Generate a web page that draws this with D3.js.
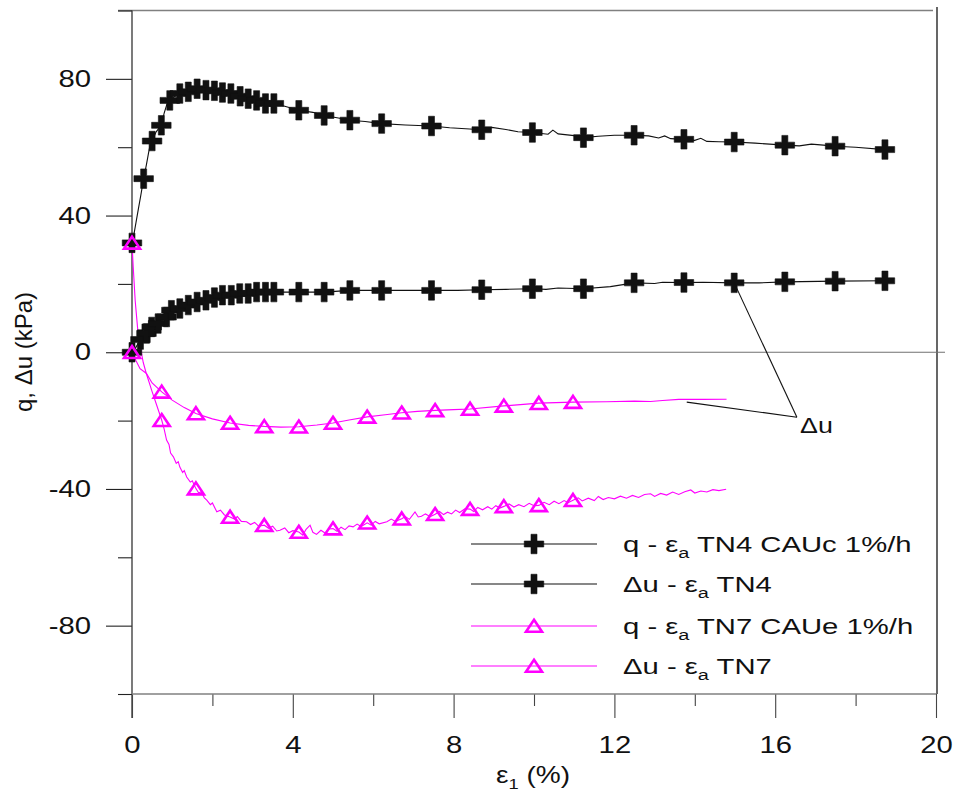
<!DOCTYPE html>
<html>
<head>
<meta charset="utf-8">
<script src="https://cdn.jsdelivr.net/npm/d3@7/dist/d3.min.js"></script>
<style>
  body { margin: 0; background: #fff; }
  svg { display: block; font-family: Arial, "Liberation Sans", sans-serif; }
</style>
</head>
<body>
<script>
// ---------- DATA ----------
const xMajorTicks = [0, 4, 8, 12, 16, 20];
const xMinorTicks = [2, 6, 10, 14, 18];
const yMajorTicks = [-80, -40, 0, 40, 80];
const yMinorTicks = [-100, -60, -20, 20, 60, 100];

// TN4 CAUc : q - eps_a (line)
const tn4qLine = [[0,32],[0.04,34],[0.1,38],[0.16,42],[0.22,46],[0.29,50.8],[0.36,55],[0.43,59.5],[0.5,61.8],[0.6,64.5],[0.73,66.4],[0.8,70],[0.88,73],[0.94,73.7],[1.05,74.8],[1.19,75.7],[1.3,76],[1.4,76.2],[1.5,76.8],[1.62,77.1],[1.73,76.9],[1.84,76.7],[2.05,76.5],[2.25,76.0],[2.46,75.7],[2.69,74.9],[2.89,74.2],[3.1,73.7],[3.32,72.8],[3.53,72.8],[3.8,72],[4.15,70.8],[4.5,70.2],[4.78,69.3],[5.1,68.6],[5.42,67.9],[5.8,67.5],[6.21,66.9],[6.8,66.5],[7.45,66.2],[7.9,65.7],[8.3,65.4],[8.7,65.1],[8.95,65.8],[9.3,65.2],[9.6,64.5],[9.96,64.3],[10.35,63.8],[10.47,65.0],[10.6,63.9],[11.0,63.4],[11.23,62.8],[11.6,63.2],[12.0,63.5],[12.49,63.5],[12.85,63.3],[13.1,62.7],[13.25,63.3],[13.4,62.5],[13.73,62.3],[14.0,62],[14.15,62.6],[14.3,61.7],[14.6,61.6],[14.98,61.5],[15.5,61.2],[16.24,60.6],[16.6,60.4],[16.9,60.9],[17.2,60.6],[17.49,60.3],[18.0,60],[18.73,59.3],[18.92,59.2]];
const tn4qMarks = [[0,32],[0.29,50.8],[0.5,61.8],[0.73,66.4],[0.94,73.7],[1.19,75.7],[1.40,76.2],[1.62,77.1],[1.84,76.7],[2.05,76.5],[2.25,76.0],[2.46,75.7],[2.69,74.9],[2.89,74.2],[3.10,73.7],[3.32,72.8],[3.53,72.8],[4.15,70.8],[4.78,69.3],[5.42,67.9],[6.21,66.9],[7.45,66.2],[8.7,65.1],[9.96,64.3],[11.23,62.8],[12.49,63.5],[13.73,62.3],[14.98,61.5],[16.24,60.6],[17.49,60.3],[18.73,59.3]];

// TN4 : du - eps_a
const tn4uLine = [[0,0],[0.05,0.5],[0.1,1.5],[0.21,3.7],[0.36,5.5],[0.49,7.4],[0.65,8.4],[0.86,10.3],[0.98,12.3],[1.19,12.8],[1.4,13.8],[1.62,14.7],[1.84,15.2],[2.05,16.0],[2.25,16.7],[2.47,16.7],[2.68,17.2],[2.89,17.2],[3.1,17.6],[3.32,17.6],[3.53,17.6],[4.15,17.6],[4.78,17.6],[5.42,18.1],[6.21,18.1],[7.45,18.1],[8.1,18.1],[8.7,18.3],[9.3,18.4],[9.96,18.6],[10.3,18.4],[10.6,18.8],[11.23,18.6],[11.9,19.2],[12.49,20.3],[13.0,20.1],[13.2,20.5],[13.73,20.4],[14.2,20.5],[14.98,20.3],[15.6,20.3],[16.24,20.6],[17.49,20.8],[18.73,20.9],[18.92,20.9]];
const tn4uMarks = [[0,0],[0.21,3.7],[0.36,5.5],[0.49,7.4],[0.65,8.4],[0.86,10.3],[0.98,12.3],[1.19,12.8],[1.40,13.8],[1.62,14.7],[1.84,15.2],[2.05,16.0],[2.25,16.7],[2.47,16.7],[2.68,17.2],[2.89,17.2],[3.10,17.6],[3.32,17.6],[3.53,17.6],[4.15,17.6],[4.78,17.6],[5.42,18.1],[6.21,18.1],[7.45,18.1],[8.7,18.3],[9.96,18.6],[11.23,18.6],[12.49,20.3],[13.73,20.4],[14.98,20.3],[16.24,20.6],[17.49,20.8],[18.73,20.9]];

// TN7 CAUe : q - eps_a
const tn7qLine = [[0,32],[0.03,25],[0.08,15],[0.14,7],[0.2,2],[0.28,-3],[0.35,-6],[0.41,-8.2],[0.5,-11.5],[0.6,-15],[0.74,-19.9],[0.8,-22.5],[0.86,-25.7],[0.92,-27],[0.96,-29.5],[1.03,-30.6],[1.1,-32.5],[1.15,-32],[1.19,-33.6],[1.26,-35.2],[1.3,-34.6],[1.36,-36.5],[1.45,-38],[1.5,-37.6],[1.59,-39.9],[1.66,-41.2],[1.72,-40.8],[1.8,-42.6],[1.86,-43.3],[1.95,-44.6],[2.0,-44.1],[2.11,-46.7],[2.2,-46.2],[2.3,-47.6],[2.44,-48.2],[2.55,-48.8],[2.62,-48.1],[2.72,-49.5],[2.85,-49.6],[2.95,-50.4],[3.05,-49.8],[3.15,-50.9],[3.29,-50.6],[3.4,-51.5],[3.5,-50.9],[3.6,-52.3],[3.68,-52.1],[3.8,-51.4],[3.9,-52.8],[4.0,-52.2],[4.15,-52.6],[4.25,-53.5],[4.33,-51.8],[4.43,-50.6],[4.5,-52.7],[4.59,-53.3],[4.7,-52.1],[4.8,-52.9],[4.9,-51.7],[5.0,-51.6],[5.1,-52.4],[5.2,-51.2],[5.3,-51.9],[5.4,-50.8],[5.5,-51.1],[5.6,-50.3],[5.7,-51.0],[5.85,-49.9],[5.95,-50.6],[6.05,-49.5],[6.15,-50.2],[6.34,-49.6],[6.45,-48.8],[6.55,-49.5],[6.71,-48.7],[6.8,-48.1],[6.9,-48.9],[7.04,-46.7],[7.12,-48.2],[7.2,-48],[7.3,-47.3],[7.42,-48.1],[7.54,-47.4],[7.65,-46.6],[7.75,-47.5],[7.85,-46.8],[7.95,-47.3],[8.05,-46.2],[8.15,-46.9],[8.28,-45.8],[8.41,-45.9],[8.5,-46.6],[8.6,-45.4],[8.72,-46.1],[8.85,-45.2],[8.95,-45.9],[9.05,-44.9],[9.15,-45.6],[9.25,-45.1],[9.38,-44.4],[9.5,-45.3],[9.62,-44.6],[9.75,-45.2],[9.88,-44.2],[10.0,-44.9],[10.12,-44.8],[10.25,-43.9],[10.38,-44.6],[10.5,-43.6],[10.62,-44.3],[10.75,-43.4],[10.85,-44.0],[10.97,-43.3],[11.1,-42.6],[11.2,-43.5],[11.35,-42.7],[11.5,-43.4],[11.6,-42.2],[11.72,-43.1],[11.85,-42.5],[12.0,-42.9],[12.15,-42.1],[12.3,-42.7],[12.45,-41.9],[12.6,-42.5],[12.75,-41.6],[12.9,-41.4],[13.0,-42.2],[13.15,-41.3],[13.3,-41.8],[13.45,-40.9],[13.6,-41.6],[13.75,-40.8],[13.9,-40.3],[14.0,-41.2],[14.15,-40.6],[14.3,-40.9],[14.45,-40.2],[14.6,-40.5],[14.78,-40.1]];
const tn7qMarks = [[0,32],[0.74,-19.9],[1.59,-39.9],[2.44,-48.2],[3.29,-50.6],[4.15,-52.6],[5.0,-51.6],[5.85,-49.9],[6.71,-48.7],[7.54,-47.4],[8.41,-45.9],[9.25,-45.1],[10.12,-44.8],[10.97,-43.3]];

// TN7 : du - eps_a
const tn7uLine = [[0,0],[0.1,-2.5],[0.2,-4.8],[0.36,-6.2],[0.5,-9.0],[0.74,-11.6],[1.0,-14],[1.3,-16.2],[1.59,-17.9],[2.0,-19.5],[2.44,-20.7],[2.9,-21.4],[3.29,-21.7],[3.7,-21.9],[4.15,-21.8],[4.6,-21.3],[5.0,-20.7],[5.4,-19.8],[5.85,-18.9],[6.3,-18.3],[6.71,-17.7],[7.1,-17.3],[7.54,-17.0],[8.0,-16.8],[8.41,-16.6],[9.25,-15.7],[10.12,-14.9],[10.97,-14.6],[11.8,-14.5],[12.5,-14.3],[12.9,-14.4],[13.2,-14.1],[13.6,-13.8],[14.2,-13.8],[14.79,-13.75]];
const tn7uMarks = [[0,0],[0.74,-11.6],[1.59,-17.9],[2.44,-20.7],[3.29,-21.7],[4.15,-21.8],[5.0,-20.7],[5.85,-18.9],[6.71,-17.7],[7.54,-17.0],[8.41,-16.6],[9.25,-15.7],[10.12,-14.9],[10.97,-14.6]];

const seriesNames = ["q - ε|a| TN4 CAUc 1%/h", "Δu - ε|a| TN4", "q - ε|a| TN7 CAUe 1%/h", "Δu - ε|a| TN7"];
const seriesColors = ["#111111", "#111111", "#ff00ff", "#ff00ff"];
const seriesSymbols = ["plus", "plus", "triangle", "triangle"];
const annotationText = "Δu";
const annotationTargets = [[14.98, 20.3], [13.8, -14.6]];
const annotationAnchor = [16.54, -19.0];
const xTitle = ["ε", "1", " (%)"];
const yTitle = "q, Δu (kPa)";

// ---------- CHART ----------
const W = 954, H = 792, SX = 1.22, SXL = 1.33;
const x = d3.scaleLinear().domain([0, 20]).range([132, 936]);
const y = d3.scaleLinear().domain([-100, 100]).range([694, 10.5]);
const fmt = d => String(d);

const svg = d3.select("body").append("svg").attr("width", W).attr("height", H);

// plus & triangle symbol types
const plusType = { draw(c, s) { const a = s / 2, t = 3.0;
  c.moveTo(-a,-t); c.lineTo(-t,-t); c.lineTo(-t,-a); c.lineTo(t,-a); c.lineTo(t,-t); c.lineTo(a,-t);
  c.lineTo(a,t); c.lineTo(t,t); c.lineTo(t,a); c.lineTo(-t,a); c.lineTo(-t,t); c.lineTo(-a,t); c.closePath(); } };
const triType = { draw(c, s) { const h = s * 0.72;
  c.moveTo(0, -h/2 - 0.5); c.lineTo(s/2, h/2); c.lineTo(-s/2, h/2); c.closePath(); } };
const plusPath = d3.symbol().type(plusType).size(19.5)();
const triPath = d3.symbol().type(triType).size(16)();

// frame lines
svg.append("line").attr("x1", 118).attr("x2", 933).attr("y1", y(100)).attr("y2", y(100))
  .attr("stroke", "#808080").attr("stroke-width", 1.5);
svg.append("line").attr("x1", 937).attr("x2", 937).attr("y1", 7).attr("y2", y(-100))
  .attr("stroke", "#000").attr("stroke-width", 1.2);
// zero line
svg.append("line").attr("x1", x(0)).attr("x2", 945).attr("y1", y(0)).attr("y2", y(0))
  .attr("stroke", "#707070").attr("stroke-width", 1.2);

// y axis
const yAx = svg.append("g").attr("transform", `translate(${x(0)},0)`)
  .call(d3.axisLeft(y).tickValues(yMajorTicks).tickSize(26).tickSizeOuter(0).tickFormat(fmt));
yAx.select(".domain").remove();
yAx.selectAll(".tick line").attr("stroke", "#222").attr("stroke-width", 1.1);
yAx.selectAll(".tick text").attr("font-size", 24).attr("font-family", "Arial, 'Liberation Sans', sans-serif")
  .attr("fill", "#111").attr("x", -41 / SX).attr("transform", `scale(${SX},1)`);
const yAxMin = svg.append("g").attr("transform", `translate(${x(0)},0)`)
  .call(d3.axisLeft(y).tickValues(yMinorTicks).tickSize(14).tickSizeOuter(0).tickFormat(""));
yAxMin.select(".domain").remove();
yAxMin.selectAll(".tick line").attr("stroke", "#222").attr("stroke-width", 1.1);
svg.append("line").attr("x1", x(0)).attr("x2", x(0)).attr("y1", y(100)).attr("y2", y(-100) + 24)
  .attr("stroke", "#333").attr("stroke-width", 1.3);

// x axis
const xAx = svg.append("g").attr("transform", `translate(0,${y(-100)})`)
  .call(d3.axisBottom(x).tickValues(xMajorTicks).tickSize(24).tickSizeOuter(0).tickPadding(18).tickFormat(fmt));
xAx.select(".domain").remove();
xAx.selectAll(".tick line").attr("stroke", "#444").attr("stroke-width", 1.1);
xAx.selectAll(".tick text").attr("font-size", 24).attr("font-family", "Arial, 'Liberation Sans', sans-serif")
  .attr("fill", "#111").attr("transform", `scale(${SX},1)`);
const xAxMin = svg.append("g").attr("transform", `translate(0,${y(-100)})`)
  .call(d3.axisBottom(x).tickValues(xMinorTicks).tickSize(12).tickSizeOuter(0).tickFormat(""));
xAxMin.select(".domain").remove();
xAxMin.selectAll(".tick line").attr("stroke", "#444").attr("stroke-width", 1.1);
svg.append("line").attr("x1", x(0)).attr("x2", x(20)).attr("y1", y(-100)).attr("y2", y(-100))
  .attr("stroke", "#808080").attr("stroke-width", 1.5);

// axis titles
const xt = svg.append("text").attr("transform", `translate(533,783) scale(${SX},1)`)
  .attr("text-anchor", "middle").attr("font-size", 23).attr("fill", "#111");
xt.append("tspan").text(xTitle[0]);
xt.append("tspan").attr("font-size", 15).attr("dy", 6).text(xTitle[1]);
xt.append("tspan").attr("dy", -6).text(xTitle[2]);
svg.append("text").attr("transform", "translate(32,352) rotate(-90)")
  .attr("text-anchor", "middle").attr("font-size", 24).attr("fill", "#111").text(yTitle);

// series
const line = d3.line().x(d => x(d[0])).y(d => y(d[1]));
const lines = [tn4qLine, tn4uLine, tn7qLine, tn7uLine];
const marks = [tn4qMarks, tn4uMarks, tn7qMarks, tn7uMarks];
lines.forEach((ln, i) => {
  svg.append("path").datum(ln).attr("d", line).attr("fill", "none")
    .attr("stroke", seriesColors[i]).attr("stroke-width", 1.1);
});
marks.forEach((mk, i) => {
  const g = svg.append("g");
  g.selectAll("path").data(mk).join("path")
    .attr("transform", d => `translate(${x(d[0])},${y(d[1])})`)
    .attr("d", seriesSymbols[i] === "plus" ? plusPath : triPath)
    .attr("fill", seriesSymbols[i] === "plus" ? seriesColors[i] : "none")
    .attr("stroke", seriesColors[i])
    .attr("stroke-width", seriesSymbols[i] === "plus" ? 0.6 : 2.6)
    .attr("stroke-linejoin", "miter");
});

// annotation
annotationTargets.forEach(t => {
  svg.append("line").attr("x1", x(t[0])).attr("y1", y(t[1]))
    .attr("x2", x(annotationAnchor[0])).attr("y2", y(annotationAnchor[1]))
    .attr("stroke", "#111").attr("stroke-width", 1.1);
});
svg.append("text").attr("transform", `translate(800,433) scale(${SX},1)`)
  .attr("font-size", 22).attr("fill", "#111").text(annotationText);

// legend
const legRows = [544, 584, 626, 666];
seriesNames.forEach((name, i) => {
  const ry = legRows[i];
  svg.append("line").attr("x1", 471).attr("x2", 597).attr("y1", ry).attr("y2", ry)
    .attr("stroke", seriesColors[i]).attr("stroke-width", 1.1);
  svg.append("path").attr("transform", `translate(534,${ry})`)
    .attr("d", seriesSymbols[i] === "plus" ? plusPath : triPath)
    .attr("fill", seriesSymbols[i] === "plus" ? seriesColors[i] : "none")
    .attr("stroke", seriesColors[i]).attr("stroke-width", seriesSymbols[i] === "plus" ? 0.6 : 2.6);
  const parts = name.split("|");
  const t = svg.append("text").attr("transform", `translate(623,${ry + 8}) scale(${SXL},1)`)
    .attr("font-size", 22).attr("fill", "#111").attr("xml:space", "preserve").style("white-space", "pre");
  t.append("tspan").text(parts[0]);
  t.append("tspan").attr("font-size", 15).attr("dy", 6).text(parts[1]);
  t.append("tspan").attr("dy", -6).text(parts[2]);
});
</script>
</body>
</html>
